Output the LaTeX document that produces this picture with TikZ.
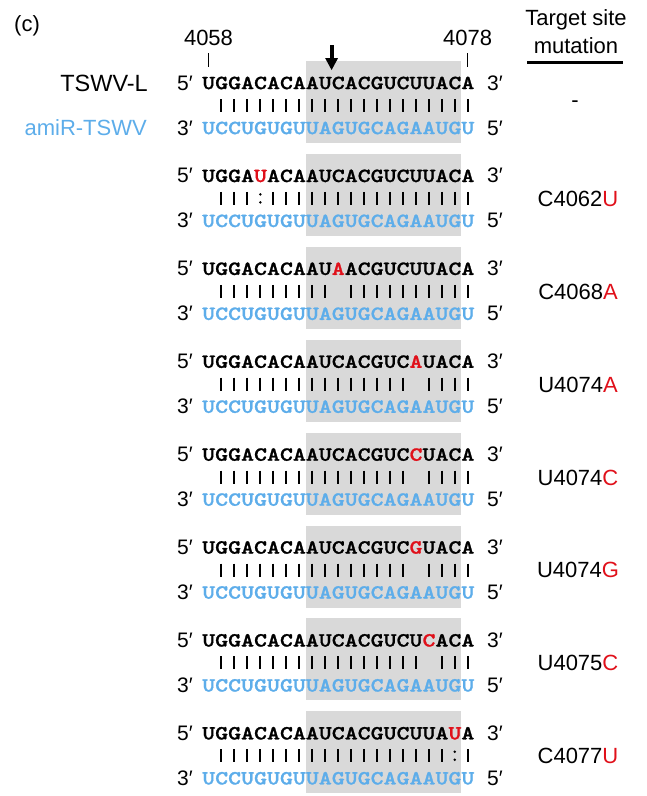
\documentclass[tikz,border=0pt]{standalone}
\usepackage{fontspec}
\setmainfont{Liberation Sans}
\newfontfamily\seqfont{lmmonolt10-bold.otf}[FakeStretch=1.2343,FakeBold=1.2]
\definecolor{seqblue}{HTML}{5DADEA}
\definecolor{mutred}{HTML}{E0101A}
\definecolor{boxgray}{HTML}{D9D9D9}
\newcommand{\mutnt}[1]{\textcolor{mutred}{#1}}
\begin{document}
\begin{tikzpicture}[x=1pt,y=-1pt,
  lab/.style={font=\fontsize{22}{24}\selectfont, inner sep=0pt},
  seqrow/.style={font=\seqfont\fontsize{20}{24}\selectfont, inner sep=0pt, anchor=base west},
  primelab/.style={font=\fontsize{21}{24}\selectfont, inner sep=0pt, anchor=base west},
  pairbar/.style={line width=2pt},
  posmark/.style={line width=1.5pt},
]
\useasboundingbox (0,0) rectangle (646,796);
\clip (0,0) rectangle (646,796);

\foreach \k/\topseq/\bars/\lab in {
 0/{UGGACACAAUCACGUCUUACA}/{0,1,1,1,1,1,1,1,1,1,1,1,1,1,1,1,1,1,1,1,1}/{},
 1/{UGGA\mutnt{U}ACAAUCACGUCUUACA}/{0,1,1,1,2,1,1,1,1,1,1,1,1,1,1,1,1,1,1,1,1}/{C4062\mutnt{U}},
 2/{UGGACACAAU\mutnt{A}ACGUCUUACA}/{0,1,1,1,1,1,1,1,1,1,0,1,1,1,1,1,1,1,1,1,1}/{C4068\mutnt{A}},
 3/{UGGACACAAUCACGUC\mutnt{A}UACA}/{0,1,1,1,1,1,1,1,1,1,1,1,1,1,1,1,0,1,1,1,1}/{U4074\mutnt{A}},
 4/{UGGACACAAUCACGUC\mutnt{C}UACA}/{0,1,1,1,1,1,1,1,1,1,1,1,1,1,1,1,0,1,1,1,1}/{U4074\mutnt{C}},
 5/{UGGACACAAUCACGUC\mutnt{G}UACA}/{0,1,1,1,1,1,1,1,1,1,1,1,1,1,1,1,0,1,1,1,1}/{U4074\mutnt{G}},
 6/{UGGACACAAUCACGUCU\mutnt{C}ACA}/{0,1,1,1,1,1,1,1,1,1,1,1,1,1,1,1,1,0,1,1,1}/{U4075\mutnt{C}},
 7/{UGGACACAAUCACGUCUUA\mutnt{U}A}/{0,1,1,1,1,1,1,1,1,1,1,1,1,1,1,1,1,1,1,2,1}/{C4077\mutnt{U}}}
{
  \pgfmathsetmacro{\T}{83+92.9*\k}
  \fill[boxgray] (305.7,{\T-22}) rectangle (461.2,{\T+60});
  \node[primelab] (p5top\k) at (177,{\T+7}) {5′};
  \node[primelab] (p3top\k) at (487,{\T+7}) {3′};
  \node[primelab] (p3bot\k) at (177,{\T+52}) {3′};
  \node[primelab] (p5bot\k) at (487,{\T+52}) {5′};
  \node[seqrow] (top\k) at (202,{\T+6.1}) {\topseq};
  \node[seqrow, text=seqblue] (bot\k) at (202,{\T+51.1}) {UCCUGUGUUAGUGCAGAAUGU};
  \foreach \b [count=\i] in \bars {
    \pgfmathsetmacro{\xx}{202+(\i-0.5)*12.96}
    \ifnum\b=1
      \draw[pairbar] (\xx,{\T+16}) -- (\xx,{\T+29});
    \fi
    \ifnum\b=2
      \fill (\xx,{\T+18.5}) circle (1.4);
      \fill (\xx,{\T+26.5}) circle (1.4);
    \fi
  }
  \ifnum\k=0
    \node[lab] (mut\k) at (575,{\T+21}) {-};
  \else
    \node[lab, anchor=base] (mut\k) at (578,{\T+30.4}) {\lab};
  \fi
}

% header
\node[lab, anchor=base west] (panel) at (14,31) {(c)};
\node[lab, anchor=base] (n4058) at (208.5,45) {4058};
\node[lab, anchor=base] (n4078) at (467.7,45) {4078};
\coordinate (t1a) at (208.5,53); \coordinate (t1b) at (208.5,67);
\coordinate (t2a) at (467.7,53); \coordinate (t2b) at (467.7,67);
\draw[posmark] (t1a) -- (t1b);
\draw[posmark] (t2a) -- (t2b);
% cleavage arrow
\fill (329.6,45) rectangle (333.6,60);
\fill (325.1,58) -- (338.1,58) -- (331.6,70) -- cycle;
\node[lab, anchor=base] (hd1) at (576,25) {Target site};
\node[lab, anchor=base] (hd2) at (576,53) {mutation};
\coordinate (ulA) at (527,62); \coordinate (ulB) at (623,62);
\draw[line width=3pt] (ulA) -- (ulB);
\node[lab, anchor=base east, font=\fontsize{23.5}{26}\selectfont] (tswv) at (148,91) {TSWV-L};
\node[lab, anchor=base east, text=seqblue] (amir) at (147,135) {amiR-TSWV};
\end{tikzpicture}
\end{document}
